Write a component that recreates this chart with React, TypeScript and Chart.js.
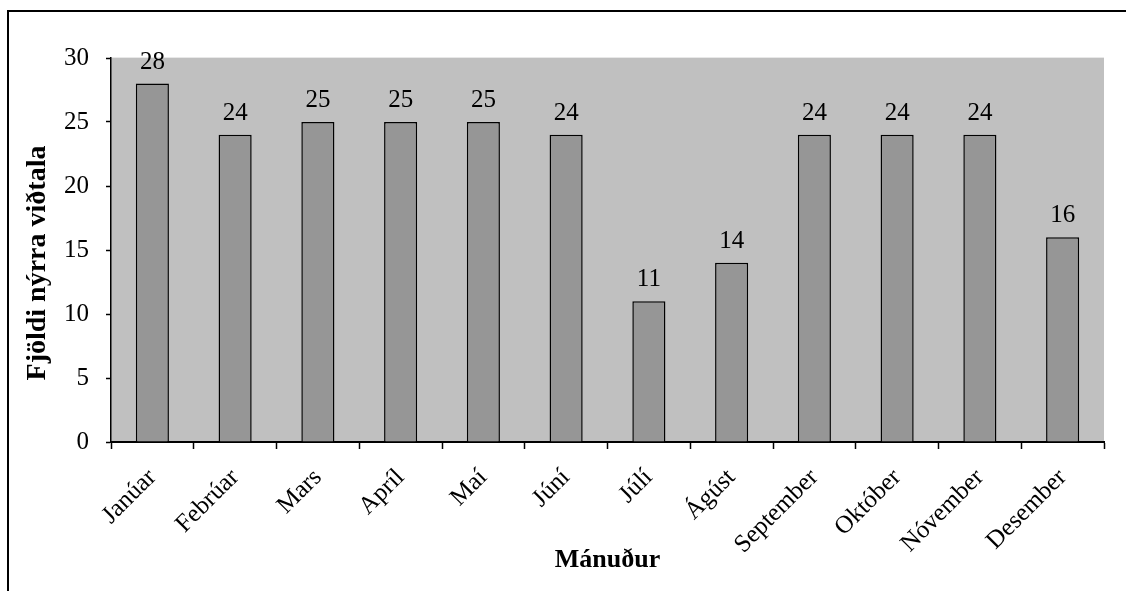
import React, { useEffect, useRef } from "react";
import { Chart, registerables } from "chart.js";

Chart.register(...registerables);

const months = [
  "Janúar", "Febrúar", "Mars", "Apríl", "Maí", "Júní",
  "Júlí", "Ágúst", "September", "Október", "Nóvember", "Desember",
];
const interviews = [28, 24, 25, 25, 25, 24, 11, 14, 24, 24, 24, 16];
const yTicks = [0, 5, 10, 15, 20, 25, 30];
const yTitle = "Fjöldi nýrra viðtala";
const xTitle = "Mánuður";

const FONT = "'Liberation Serif', 'Times New Roman', serif";

const bgPlugin = {
  id: "bgPlugin",
  beforeDraw(chart: any) {
    const { ctx, chartArea } = chart;
    ctx.save();
    ctx.fillStyle = "#ffffff";
    ctx.fillRect(0, 0, chart.width, chart.height);
    // outer frame (left & top visible)
    ctx.strokeStyle = "#000000";
    ctx.lineWidth = 2;
    ctx.beginPath();
    ctx.moveTo(8, chart.height + 2);
    ctx.lineTo(8, 11);
    ctx.lineTo(chart.width + 2, 11);
    ctx.stroke();
    ctx.fillStyle = "#c0c0c0";
    ctx.fillRect(chartArea.left, chartArea.top, chartArea.right - chartArea.left, chartArea.bottom - chartArea.top);
    ctx.fillStyle = "#e8e8e8";
    ctx.fillRect(chartArea.left, chartArea.top - 1, chartArea.right - chartArea.left, 1);
    ctx.restore();
  },
};

const labelPlugin = {
  id: "labelPlugin",
  afterDatasetsDraw(chart: any) {
    const { ctx, chartArea } = chart;
    const meta = chart.getDatasetMeta(0);
    ctx.save();
    ctx.fillStyle = "#000000";
    ctx.font = `25px ${FONT}`;
    ctx.textAlign = "center";
    ctx.textBaseline = "alphabetic";
    meta.data.forEach((bar: any, i: number) => {
      ctx.fillText(String(interviews[i]), bar.x, bar.y - 15);
    });
    // y-axis title
    ctx.font = `bold 28px ${FONT}`;
    ctx.textBaseline = "middle";
    ctx.translate(38, (chartArea.top + chartArea.bottom) / 2 + 13);
    ctx.rotate(-Math.PI / 2);
    ctx.fillText(yTitle, 0, 0);
    ctx.restore();
  },
};

export default function App() {
  const ref = useRef<HTMLCanvasElement>(null);
  useEffect(() => {
    if (!ref.current) return;
    const chart = new Chart(ref.current, {
      type: "bar",
      data: {
        labels: months,
        datasets: [
          {
            data: interviews,
            backgroundColor: "#969696",
            borderColor: "#000000",
            borderWidth: 1.5,
            barPercentage: 0.4,
            categoryPercentage: 1,
          },
        ],
      },
      options: {
        animation: false,
        responsive: true,
        maintainAspectRatio: false,
        layout: { padding: { left: 18, top: 58, right: 22, bottom: 0 } },
        plugins: { legend: { display: false }, tooltip: { enabled: false } },
        scales: {
          x: {
            offset: true,
            grid: {
              display: true,
              drawOnChartArea: false,
              drawTicks: true,
              tickLength: 7,
              tickWidth: 1.5,
              tickColor: "#000000",
              offset: true,
            },
            border: { display: true, color: "#000000", width: 2 },
            ticks: {
              color: "#000000",
              font: { family: FONT, size: 25 },
              minRotation: 45,
              maxRotation: 45,
              autoSkip: false,
              padding: 14,
            },
            title: {
              display: true,
              text: xTitle,
              color: "#000000",
              font: { family: FONT, size: 26, weight: "bold" },
              padding: { top: 0, bottom: 15 },
            },
            afterFit(scale: any) {
              scale.height = 149;
            },
          },
          y: {
            min: 0,
            max: 30,
            afterBuildTicks(scale: any) {
              scale.ticks = yTicks.map((v) => ({ value: v }));
            },
            grid: {
              display: true,
              drawOnChartArea: false,
              drawTicks: true,
              tickLength: 5,
              tickWidth: 1.5,
              tickColor: "#000000",
            },
            border: { display: true, color: "#000000", width: 1.5 },
            ticks: {
              color: "#000000",
              font: { family: FONT, size: 25 },
              padding: 17,
            },
            title: { display: false },
            afterFit(scale: any) {
              scale.width = 93;
            },
          },
        },
      },
      plugins: [bgPlugin, labelPlugin],
    });
    return () => chart.destroy();
  }, []);
  return (
    <div style={{ position: "fixed", left: 0, top: 0, width: 1126, height: 591 }}>
      <canvas ref={ref} />
    </div>
  );
}
